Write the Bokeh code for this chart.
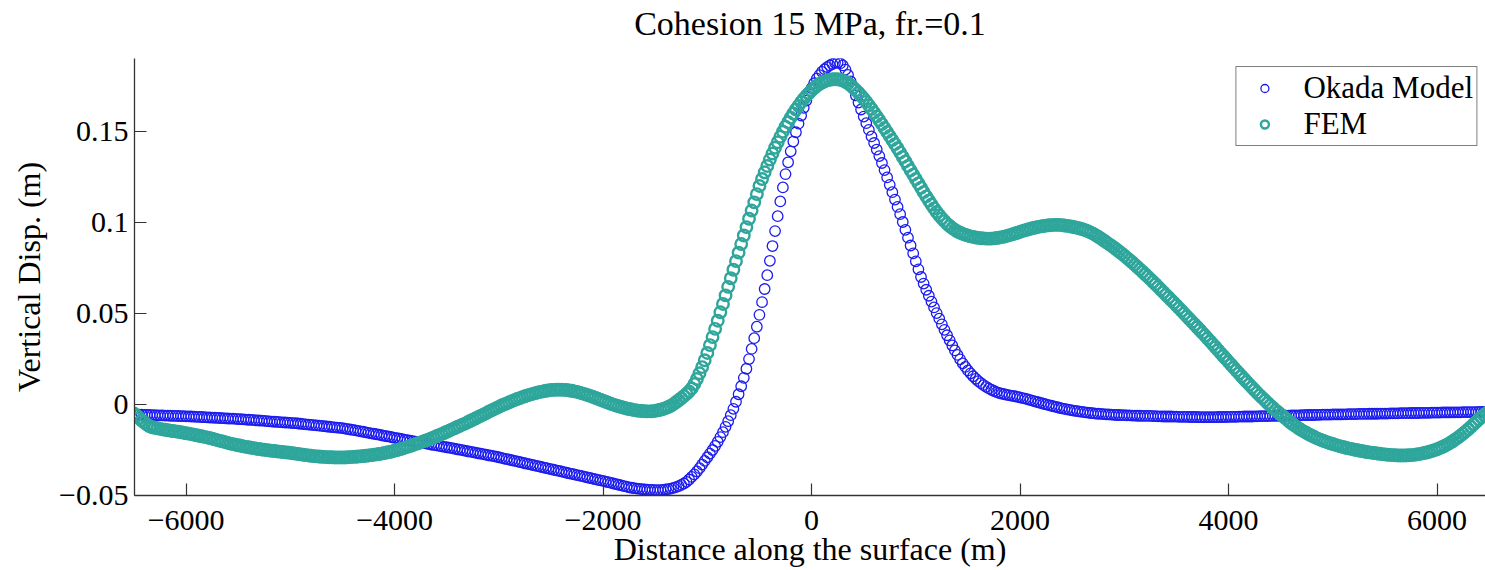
from bokeh.plotting import figure
from bokeh.models import Range1d, FixedTicker, Legend, LegendItem, LinearAxis
from bokeh.embed import file_html
from bokeh.resources import INLINE

# Distance along the surface (m), sampled every 25 m
distance = list(range(-6500, 6501, 25))

# Okada Model vertical displacement (m)
okada = [
    -0.0055, -0.00555, -0.0056, -0.00565, -0.0057, -0.00575, -0.0058, -0.00585, -0.0059, -0.00595,
    -0.0060, -0.00605, -0.0061, -0.00615, -0.0062, -0.00625, -0.0063, -0.00635, -0.0064, -0.00645,
    -0.0065, -0.00655, -0.0066, -0.0067, -0.0068, -0.00685, -0.0069, -0.0070, -0.0071, -0.00715,
    -0.0072, -0.0073, -0.0074, -0.00745, -0.0075, -0.0076, -0.0077, -0.00775, -0.0078, -0.0079,
    -0.0080, -0.0081, -0.0082, -0.0083, -0.0084, -0.0085, -0.0086, -0.0087, -0.0088, -0.0089,
    -0.0090, -0.00915, -0.0093, -0.0094, -0.0095, -0.0096, -0.0097, -0.0098, -0.0099, -0.0100,
    -0.0101, -0.0102, -0.0103, -0.01045, -0.0106, -0.01075, -0.0109, -0.01105, -0.0112, -0.01135,
    -0.0115, -0.01165, -0.0118, -0.01195, -0.0121, -0.01225, -0.0124, -0.01255, -0.0127, -0.01285,
    -0.0130, -0.01325, -0.0135, -0.01375, -0.0140, -0.01425, -0.0145, -0.01475, -0.0150, -0.0153,
    -0.0156, -0.01585, -0.0161, -0.01635, -0.0166, -0.0169, -0.0172, -0.01745, -0.0177, -0.0180,
    -0.0183, -0.01855, -0.0188, -0.0191, -0.0194, -0.01965, -0.0199, -0.02015, -0.0204, -0.02065,
    -0.0209, -0.02115, -0.0214, -0.0217, -0.0220, -0.02225, -0.0225, -0.02275, -0.0230, -0.02325,
    -0.0235, -0.02375, -0.0240, -0.0243, -0.0246, -0.02485, -0.0251, -0.0254, -0.0257, -0.02595,
    -0.0262, -0.0265, -0.0268, -0.02705, -0.0273, -0.0276, -0.0279, -0.02815, -0.0284, -0.0287,
    -0.0290, -0.02935, -0.0297, -0.0300, -0.0303, -0.03065, -0.0310, -0.0313, -0.0316, -0.03195,
    -0.0323, -0.0326, -0.0329, -0.03325, -0.0336, -0.0339, -0.0342, -0.03455, -0.0349, -0.0352,
    -0.0355, -0.03585, -0.0362, -0.0365, -0.0368, -0.03715, -0.0375, -0.0378, -0.0381, -0.03845,
    -0.0388, -0.0391, -0.0394, -0.03975, -0.0401, -0.0404, -0.0407, -0.04105, -0.0414, -0.0417,
    -0.0420, -0.04235, -0.0427, -0.04305, -0.0434, -0.04375, -0.0441, -0.04445, -0.0448, -0.04515,
    -0.0455, -0.04575, -0.0460, -0.0462, -0.0464, -0.04655, -0.0467, -0.0468, -0.0469, -0.04695,
    -0.0470, -0.04705, -0.0470, -0.0469, -0.0467, -0.0465, -0.0462, -0.0458, -0.0454, -0.0448,
    -0.0442, -0.0434, -0.0425, -0.0412, -0.0398, -0.0384, -0.0368, -0.0350, -0.0330, -0.0310,
    -0.0290, -0.0270, -0.0250, -0.0228, -0.0205, -0.0179, -0.0152, -0.0123, -0.0092, -0.0059,
    -0.0024, 0.0015, 0.0056, 0.0100, 0.0146, 0.0196, 0.0249, 0.0305, 0.0364, 0.0427,
    0.0492, 0.0562, 0.0634, 0.0710, 0.0789, 0.0870, 0.0952, 0.1034, 0.1115, 0.1192,
    0.1265, 0.1330, 0.1390, 0.1444, 0.1495, 0.1542, 0.1587, 0.1629, 0.1669, 0.1704,
    0.1737, 0.1764, 0.1789, 0.1809, 0.1827, 0.1841, 0.1853, 0.1862, 0.1870, 0.1876,
    0.1878, 0.1873, 0.1862, 0.1839, 0.1810, 0.1774, 0.1735, 0.1697, 0.1658, 0.1620,
    0.1581, 0.1545, 0.1508, 0.1472, 0.1436, 0.1400, 0.1364, 0.1326, 0.1287, 0.1247,
    0.1206, 0.1166, 0.1125, 0.1085, 0.1045, 0.1002, 0.0959, 0.0916, 0.0873, 0.0830,
    0.0786, 0.0742, 0.0700, 0.0664, 0.0630, 0.0597, 0.0565, 0.0533, 0.0502, 0.0471,
    0.0440, 0.0410, 0.0380, 0.0352, 0.0324, 0.0297, 0.0272, 0.0248, 0.0226, 0.0206,
    0.0187, 0.0171, 0.0155, 0.0141, 0.0128, 0.0117, 0.0106, 0.0097, 0.0088, 0.0081,
    0.0074, 0.0068, 0.0063, 0.0059, 0.0056, 0.0053, 0.0050, 0.0047, 0.0045, 0.0042,
    0.0039, 0.0035, 0.0032, 0.0028, 0.0024, 0.0020, 0.0016, 0.0012, 0.0008, 0.0004,
    0.0000, -0.0004, -0.0007, -0.0011, -0.0014, -0.0018, -0.0021, -0.0024, -0.0027, -0.0030,
    -0.0032, -0.0035, -0.0037, -0.0039, -0.0041, -0.0043, -0.0045, -0.0047, -0.0048, -0.0050,
    -0.0051, -0.0052, -0.0053, -0.0054, -0.0055, -0.0056, -0.0057, -0.0058, -0.0058, -0.0059,
    -0.0059, -0.0060, -0.0060, -0.0061, -0.0061, -0.0062, -0.0062, -0.0063, -0.0063, -0.0063,
    -0.0063, -0.0064, -0.0064, -0.0065, -0.0065, -0.0066, -0.0066, -0.0066, -0.0066, -0.0067,
    -0.0067, -0.0068, -0.0068, -0.0068, -0.0068, -0.0069, -0.0069, -0.0069, -0.0069, -0.0070,
    -0.0070, -0.0070, -0.0070, -0.0070, -0.0070, -0.0070, -0.0069, -0.0069, -0.0069, -0.0069,
    -0.0068, -0.0068, -0.0068, -0.0068, -0.0067, -0.0067, -0.0066, -0.0066, -0.0066, -0.0066,
    -0.0065, -0.0065, -0.0064, -0.0064, -0.0064, -0.0064, -0.0063, -0.0063, -0.0062, -0.0062,
    -0.0062, -0.0062, -0.0061, -0.0061, -0.0060, -0.0060, -0.0060, -0.0060, -0.0059, -0.0059,
    -0.0058, -0.0058, -0.0058, -0.0058, -0.0057, -0.0057, -0.0056, -0.0056, -0.0056, -0.0056,
    -0.0055, -0.0055, -0.0055, -0.0055, -0.0054, -0.0054, -0.0053, -0.0053, -0.0053, -0.0053,
    -0.0052, -0.0052, -0.0052, -0.0052, -0.0051, -0.0051, -0.0051, -0.0051, -0.0050, -0.0050,
    -0.0050, -0.0050, -0.0049, -0.0049, -0.0049, -0.0049, -0.0048, -0.0048, -0.0048, -0.0048,
    -0.0047, -0.0047, -0.0047, -0.0047, -0.0046, -0.0046, -0.0046, -0.0046, -0.0045, -0.0045,
    -0.0045, -0.0045, -0.0044, -0.0044, -0.0044, -0.0044, -0.0043, -0.0043, -0.0043, -0.0043,
    -0.0042, -0.0042, -0.0042, -0.0042, -0.0042, -0.0042, -0.0041, -0.0041, -0.0041, -0.0041,
    -0.0040,
]

# FEM vertical displacement (m)
fem = [
    -0.0050, -0.0062, -0.0075, -0.0088, -0.0100, -0.0111, -0.0120, -0.0125, -0.0128, -0.0131,
    -0.0134, -0.0137, -0.0139, -0.0142, -0.0144, -0.0146, -0.0148, -0.0150, -0.0153, -0.0155,
    -0.0158, -0.0160, -0.0163, -0.0166, -0.0169, -0.0172, -0.0175, -0.0178, -0.0181, -0.0184,
    -0.0188, -0.0192, -0.0196, -0.0200, -0.0203, -0.0207, -0.0211, -0.0215, -0.0218, -0.0221,
    -0.0224, -0.0227, -0.0230, -0.0233, -0.0235, -0.0238, -0.0240, -0.0243, -0.0245, -0.0247,
    -0.0249, -0.0251, -0.0253, -0.0255, -0.0256, -0.0258, -0.0259, -0.0261, -0.0263, -0.0264,
    -0.0266, -0.0268, -0.0270, -0.0272, -0.0274, -0.0276, -0.0278, -0.0280, -0.0282, -0.0284,
    -0.0285, -0.0286, -0.0287, -0.0288, -0.0289, -0.0290, -0.0290, -0.0291, -0.0291, -0.0291,
    -0.0291, -0.0291, -0.0290, -0.0289, -0.0288, -0.0287, -0.0286, -0.0285, -0.0283, -0.0282,
    -0.0280, -0.0278, -0.0276, -0.0274, -0.0272, -0.0270, -0.0267, -0.0264, -0.0261, -0.0258,
    -0.0254, -0.0250, -0.0246, -0.0242, -0.0237, -0.0233, -0.0228, -0.0223, -0.0218, -0.0213,
    -0.0208, -0.0203, -0.0198, -0.0193, -0.0187, -0.0181, -0.0175, -0.0169, -0.0163, -0.0157,
    -0.0150, -0.0144, -0.0137, -0.0131, -0.0124, -0.0118, -0.0111, -0.0105, -0.0098, -0.0091,
    -0.0084, -0.0077, -0.0070, -0.0063, -0.0056, -0.0049, -0.0041, -0.0034, -0.0027, -0.0020,
    -0.0013, -0.0006, 0.0000, 0.0006, 0.0012, 0.0018, 0.0024, 0.0030, 0.0035, 0.0040,
    0.0045, 0.0050, 0.0054, 0.0058, 0.0062, 0.0066, 0.0069, 0.0072, 0.0075, 0.0077,
    0.0079, 0.0080, 0.0081, 0.0081, 0.0081, 0.0080, 0.0079, 0.0077, 0.0075, 0.0072,
    0.0069, 0.0065, 0.0061, 0.0057, 0.0052, 0.0047, 0.0042, 0.0037, 0.0031, 0.0026,
    0.0020, 0.0015, 0.0009, 0.0004, -0.0001, -0.0006, -0.0010, -0.0014, -0.0018, -0.0022,
    -0.0025, -0.0028, -0.0031, -0.0033, -0.0035, -0.0036, -0.0037, -0.0038, -0.0038, -0.0037,
    -0.0035, -0.0032, -0.0029, -0.0025, -0.0020, -0.0014, -0.0007, 0.0002, 0.0012, 0.0023,
    0.0034, 0.0046, 0.0058, 0.0072, 0.0088, 0.0112, 0.0140, 0.0171, 0.0205, 0.0243,
    0.0283, 0.0326, 0.0370, 0.0415, 0.0460, 0.0506, 0.0552, 0.0599, 0.0646, 0.0693,
    0.0740, 0.0787, 0.0834, 0.0881, 0.0928, 0.0974, 0.1020, 0.1065, 0.1110, 0.1155,
    0.1200, 0.1238, 0.1275, 0.1310, 0.1345, 0.1378, 0.1410, 0.1440, 0.1470, 0.1498,
    0.1525, 0.1550, 0.1575, 0.1598, 0.1620, 0.1640, 0.1660, 0.1678, 0.1695, 0.1710,
    0.1725, 0.1738, 0.1750, 0.1760, 0.1768, 0.1774, 0.1780, 0.1783, 0.1786, 0.1786,
    0.1786, 0.1783, 0.1779, 0.1772, 0.1764, 0.1753, 0.1740, 0.1726, 0.1712, 0.1696,
    0.1680, 0.1662, 0.1643, 0.1623, 0.1603, 0.1582, 0.1561, 0.1540, 0.1518, 0.1496,
    0.1474, 0.1452, 0.1430, 0.1407, 0.1383, 0.1359, 0.1335, 0.1310, 0.1286, 0.1262,
    0.1238, 0.1214, 0.1190, 0.1166, 0.1143, 0.1120, 0.1098, 0.1077, 0.1057, 0.1039,
    0.1022, 0.1007, 0.0992, 0.0980, 0.0968, 0.0959, 0.0950, 0.0943, 0.0937, 0.0932,
    0.0927, 0.0923, 0.0920, 0.0917, 0.0915, 0.0913, 0.0912, 0.0911, 0.0911, 0.0911,
    0.0912, 0.0914, 0.0916, 0.0919, 0.0922, 0.0926, 0.0930, 0.0934, 0.0939, 0.0943,
    0.0948, 0.0953, 0.0957, 0.0961, 0.0965, 0.0969, 0.0972, 0.0975, 0.0978, 0.0980,
    0.0982, 0.0984, 0.0985, 0.0986, 0.0986, 0.0986, 0.0985, 0.0983, 0.0981, 0.0979,
    0.0976, 0.0973, 0.0970, 0.0966, 0.0962, 0.0957, 0.0952, 0.0945, 0.0938, 0.0930,
    0.0921, 0.0912, 0.0902, 0.0892, 0.0882, 0.0872, 0.0862, 0.0851, 0.0840, 0.0829,
    0.0817, 0.0805, 0.0793, 0.0781, 0.0768, 0.0755, 0.0742, 0.0729, 0.0715, 0.0702,
    0.0688, 0.0674, 0.0660, 0.0646, 0.0631, 0.0617, 0.0602, 0.0588, 0.0573, 0.0559,
    0.0544, 0.0529, 0.0514, 0.0499, 0.0484, 0.0469, 0.0454, 0.0439, 0.0424, 0.0409,
    0.0393, 0.0378, 0.0362, 0.0346, 0.0330, 0.0314, 0.0298, 0.0282, 0.0266, 0.0250,
    0.0234, 0.0218, 0.0202, 0.0186, 0.0171, 0.0155, 0.0140, 0.0124, 0.0109, 0.0094,
    0.0079, 0.0064, 0.0050, 0.0036, 0.0022, 0.0008, -0.0005, -0.0018, -0.0031, -0.0043,
    -0.0055, -0.0066, -0.0078, -0.0090, -0.0102, -0.0112, -0.0122, -0.0132, -0.0141, -0.0149,
    -0.0157, -0.0165, -0.0172, -0.0179, -0.0186, -0.0192, -0.0198, -0.0203, -0.0208, -0.0213,
    -0.0217, -0.0222, -0.0226, -0.0230, -0.0234, -0.0238, -0.0241, -0.0244, -0.0247, -0.0250,
    -0.0253, -0.0256, -0.0258, -0.0261, -0.0263, -0.0265, -0.0267, -0.0269, -0.0271, -0.0273,
    -0.0274, -0.0276, -0.0277, -0.0278, -0.0279, -0.0280, -0.0280, -0.0280, -0.0280, -0.0279,
    -0.0278, -0.0277, -0.0275, -0.0273, -0.0270, -0.0267, -0.0264, -0.0260, -0.0256, -0.0251,
    -0.0246, -0.0240, -0.0234, -0.0227, -0.0219, -0.0211, -0.0202, -0.0192, -0.0182, -0.0171,
    -0.0160, -0.0148, -0.0136, -0.0123, -0.0109, -0.0096, -0.0082, -0.0070, -0.0058, -0.0048,
    -0.0038,
]

title_text = "Cohesion 15 MPa, fr.=0.1"
x_ticks = [-6000, -4000, -2000, 0, 2000, 4000, 6000]
x_tick_labels = ["\u22126000", "\u22124000", "\u22122000", "0", "2000", "4000", "6000"]
y_ticks = [-0.05, 0, 0.05, 0.1, 0.15]
y_tick_labels = ["\u22120.05", "0", "0.05", "0.1", "0.15"]

FONT = "Liberation Serif"

p = figure(width=1485, height=570, output_backend="svg", toolbar_location=None,
           x_range=Range1d(-6495, 6465), y_range=Range1d(-0.05, 0.19),
           min_border_left=134, min_border_right=0, min_border_top=58,
           min_border_bottom=75)

r_okada = p.scatter(distance, okada, marker="circle", size=10.5,
                    fill_color=None, line_color="#1c1cf0", line_width=1.3)
r_fem = p.scatter(distance, fem, marker="circle", size=11.5,
                  fill_color=None, line_color="#2ea69b", line_width=2.4)

xax = p.below[0]
yax = p.left[0]

# title: an empty top axis whose label carries the title text
title_axis = LinearAxis(ticker=FixedTicker(ticks=[]), axis_label=title_text,
                        axis_line_color=None, major_tick_line_color=None,
                        minor_tick_line_color=None, major_tick_out=0, major_tick_in=0,
                        major_label_standoff=0, major_label_text_font_size="0px",
                        major_label_text_color=None, axis_label_standoff=17)
title_axis.axis_label_text_font = FONT
title_axis.axis_label_text_font_size = "34px"
title_axis.axis_label_text_line_height = 1.0
title_axis.axis_label_text_font_style = "normal"
title_axis.axis_label_text_color = "black"
p.add_layout(title_axis, "above")

xax.ticker = FixedTicker(ticks=x_ticks)
xax.major_label_overrides = dict(zip(x_ticks, x_tick_labels))
yax.ticker = FixedTicker(ticks=y_ticks)
yax.major_label_overrides = dict(zip(y_ticks, y_tick_labels))

xax.axis_label = "Distance along the surface (m)"
yax.axis_label = "Vertical Disp. (m)"

for ax in (xax, yax):
    ax.axis_label_text_font = FONT
    ax.axis_label_text_font_size = "32px"
    ax.axis_label_text_font_style = "normal"
    ax.axis_label_text_color = "black"
    ax.major_label_text_font = FONT
    ax.major_label_text_font_size = "30px"
    ax.major_label_text_color = "black"
    ax.axis_line_color = "#333333"
    ax.axis_line_width = 1.3
    ax.major_tick_line_color = "#333333"
    ax.major_tick_line_width = 1.2
    ax.major_tick_in = 12
    ax.major_tick_out = 0
    ax.minor_tick_line_color = None

xax.major_label_standoff = 15
xax.axis_label_standoff = -2
yax.major_label_standoff = 6
yax.axis_label_standoff = 9

p.grid.visible = False
p.outline_line_color = None
p.background_fill_color = "white"
p.border_fill_color = "white"

legend = Legend(items=[LegendItem(label="Okada Model", renderers=[r_okada]),
                       LegendItem(label="FEM", renderers=[r_fem])],
                location="top_right")
legend.margin = 8
legend.padding = 3
legend.spacing = 0
legend.label_text_font = FONT
legend.label_text_font_size = "31px"
legend.label_text_color = "black"
legend.label_height = 31
legend.glyph_height = 20
legend.glyph_width = 50
legend.label_standoff = 14
legend.border_line_color = "black"
legend.border_line_width = 1
legend.background_fill_color = "white"
legend.background_fill_alpha = 1.0
p.add_layout(legend)

open("out.html", "w").write(file_html(p, INLINE))
